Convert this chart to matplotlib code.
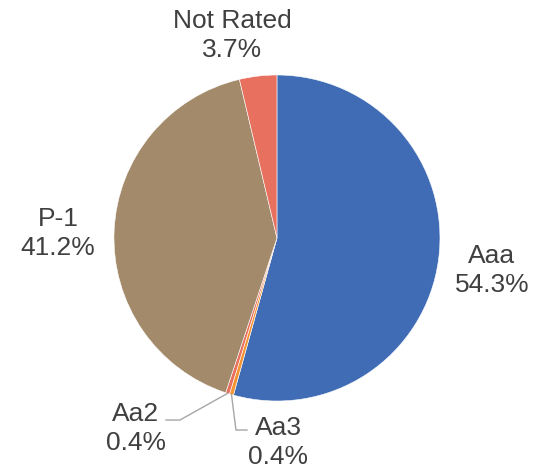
import matplotlib.pyplot as plt
import numpy as np

plt.rcParams["font.family"] = ["Liberation Sans", "DejaVu Sans"]

labels = ["Aaa", "Aa3", "Aa2", "P-1", "Not Rated"]
shares = [54.3, 0.4, 0.4, 41.2, 3.7]
colors = ["#3F6CB4", "#F39435", "#E8705E", "#A38A6A", "#E8705E"]

fig = plt.figure(figsize=(5.36, 4.69), dpi=100)
ax = fig.add_axes([0, 0, 1, 1])

wedges, _ = ax.pie(shares, colors=colors, startangle=90, counterclock=False,
                   radius=1, wedgeprops=dict(edgecolor="white", linewidth=0.4))
ax.set_xlim(-1.699, 1.589)
ax.set_ylim(-1.417, 1.460)
ax.set_aspect("equal")
ax.axis("off")

txt = "#404040"
fs = 19

def px(x, y):
    # pixel position in the reference -> data coords
    return (x - 277) / 163, (238 - y) / 163

# label positions (baseline of the second line)
pos = {"Aaa": px(492, 292), "P-1": px(58, 255), "Not Rated": px(232, 57),
       "Aa2": px(136, 450), "Aa3": px(278, 464)}

for w, lab, v in zip(wedges, labels, shares):
    x, y = pos[lab]
    ax.text(x, y, f"{lab}\n{v}%", ha="center", va="baseline", fontsize=fs,
            color=txt, linespacing=1.24, multialignment="center")

# leader lines for the two thin slices
for w, lab in zip(wedges, labels):
    if lab not in ("Aa2", "Aa3"):
        continue
    ang = np.deg2rad((w.theta1 + w.theta2) / 2)
    ex, ey = np.cos(ang), np.sin(ang)
    if lab == "Aa2":
        kx, ky = px(180, 420)
        hx, hy = px(166, 420)
    else:
        kx, ky = px(236, 430)
        hx, hy = px(247, 430)
    ax.plot([ex, kx, hx], [ey, ky, hy], color="#A6A6A6", lw=1)

fig.savefig("out.png", dpi=100)
